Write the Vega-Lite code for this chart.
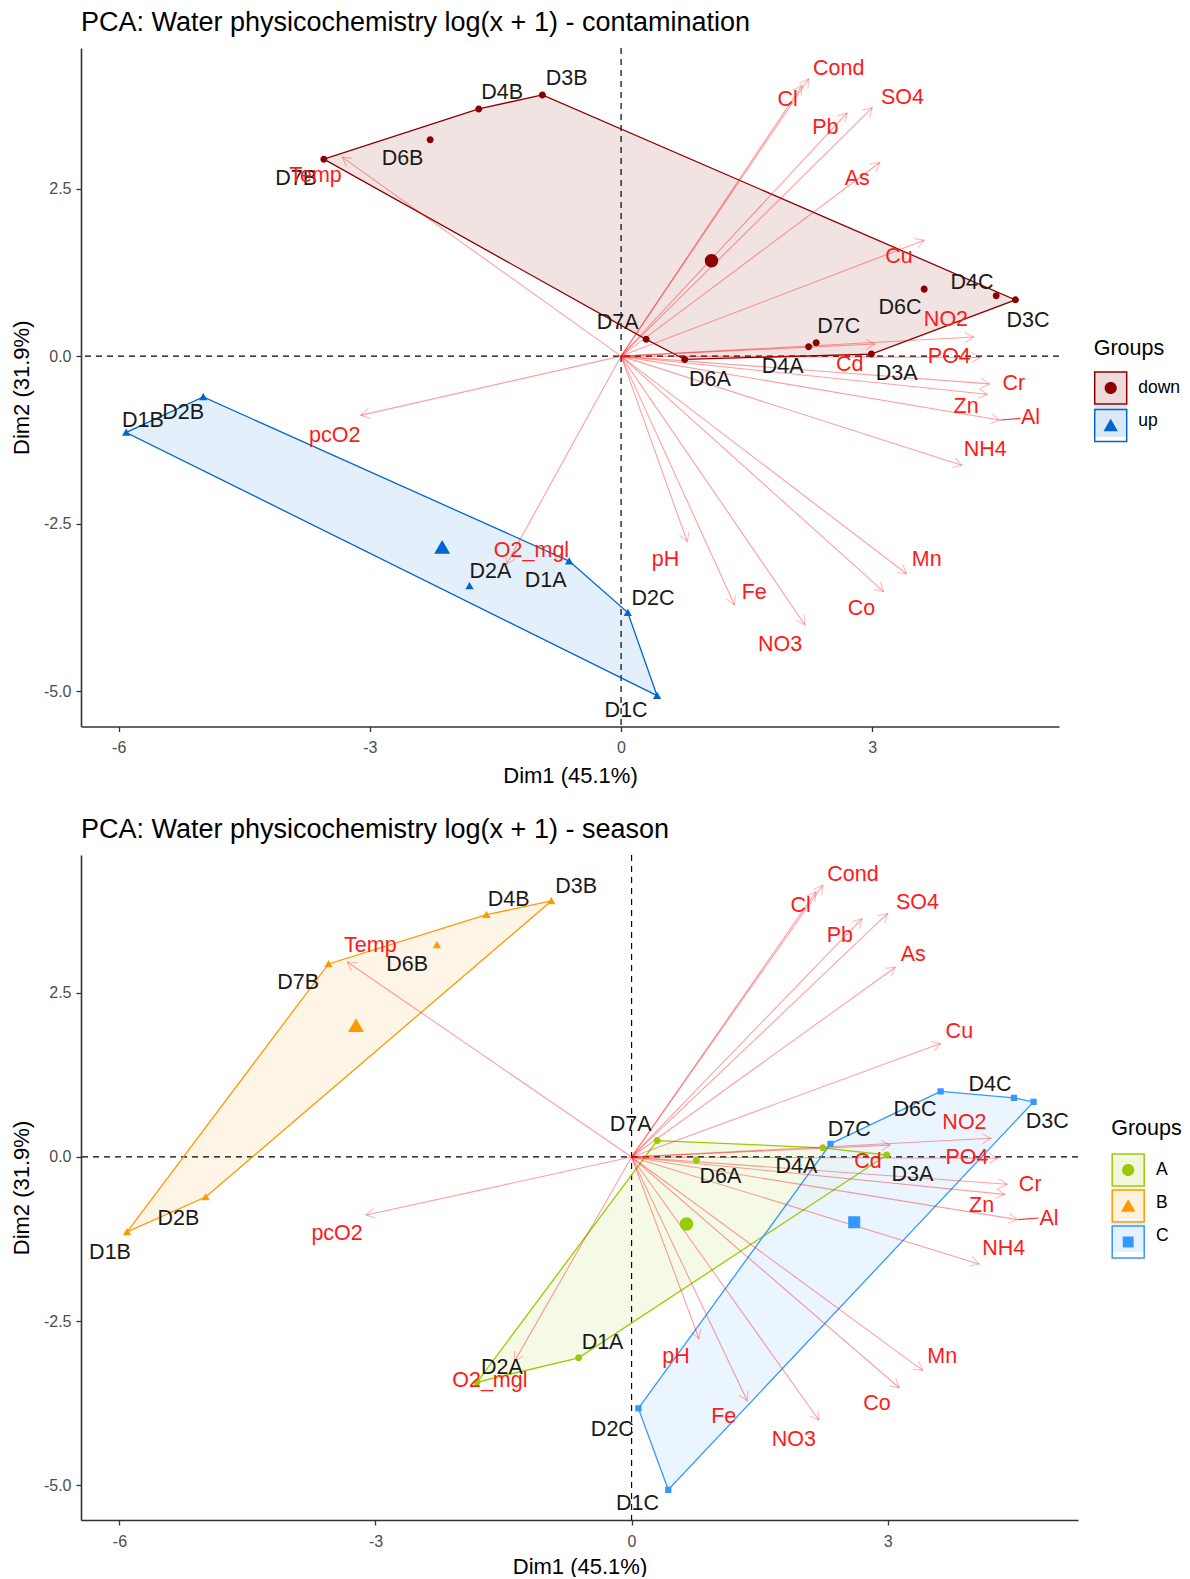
{
  "$schema": "https://vega.github.io/schema/vega-lite/v6.json",
  "background": "white",
  "padding": {"left": 10, "top": 9, "right": 2, "bottom": 0},
  "spacing": 29,
  "config": {
    "font": "Liberation Sans",
    "view": {"stroke": null},
    "axis": {"grid": false, "domainColor": "#333333", "domainWidth": 1.6, "tickColor": "#333333", "tickWidth": 1.3, "tickSize": 5, "labelColor": "#4D4D4D", "labelFontSize": 16, "labelFont": "Liberation Sans", "titleFont": "Liberation Sans", "titleFontSize": 22, "titleFontWeight": "normal", "titleColor": "black", "labelFlush": false, "labelOverlap": false},
    "axisX": {"labelPadding": 8, "titlePadding": 10},
    "axisY": {"labelPadding": 5, "titlePadding": 10},
    "legend": {"labelFont": "Liberation Sans", "titleFont": "Liberation Sans"}
  },
  "datasets": {
    "sites": [
      {"site":"D1A","contamination":"up","season":"A","dim1":-0.62,"dim2":-3.06,"lx1":-0.90,"ly1":-3.36,"lx2":-0.34,"ly2":-2.84},
      {"site":"D2A","contamination":"up","season":"A","dim1":-1.81,"dim2":-3.43,"lx1":-1.56,"ly1":-3.22,"lx2":-1.52,"ly2":-3.22},
      {"site":"D3A","contamination":"down","season":"A","dim1":2.99,"dim2":0.03,"lx1":3.29,"ly1":-0.26,"lx2":3.29,"ly2":-0.28},
      {"site":"D4A","contamination":"down","season":"A","dim1":2.24,"dim2":0.14,"lx1":1.93,"ly1":-0.16,"lx2":1.93,"ly2":-0.15},
      {"site":"D6A","contamination":"down","season":"A","dim1":0.76,"dim2":-0.05,"lx1":1.06,"ly1":-0.35,"lx2":1.04,"ly2":-0.31},
      {"site":"D7A","contamination":"down","season":"A","dim1":0.30,"dim2":0.25,"lx1":-0.04,"ly1":0.50,"lx2":-0.01,"ly2":0.49},
      {"site":"D1B","contamination":"up","season":"B","dim1":-5.91,"dim2":-1.14,"lx1":-5.71,"ly1":-0.97,"lx2":-6.11,"ly2":-1.46},
      {"site":"D2B","contamination":"up","season":"B","dim1":-4.99,"dim2":-0.61,"lx1":-5.23,"ly1":-0.85,"lx2":-5.31,"ly2":-0.94},
      {"site":"D3B","contamination":"down","season":"B","dim1":-0.94,"dim2":3.90,"lx1":-0.65,"ly1":4.14,"lx2":-0.65,"ly2":4.11},
      {"site":"D4B","contamination":"down","season":"B","dim1":-1.70,"dim2":3.69,"lx1":-1.42,"ly1":3.93,"lx2":-1.44,"ly2":3.91},
      {"site":"D6B","contamination":"down","season":"B","dim1":-2.28,"dim2":3.23,"lx1":-2.61,"ly1":2.94,"lx2":-2.63,"ly2":2.93},
      {"site":"D7B","contamination":"down","season":"B","dim1":-3.55,"dim2":2.94,"lx1":-3.88,"ly1":2.64,"lx2":-3.905,"ly2":2.65},
      {"site":"D1C","contamination":"up","season":"C","dim1":0.43,"dim2":-5.07,"lx1":0.06,"ly1":-5.30,"lx2":0.07,"ly2":-5.29},
      {"site":"D2C","contamination":"up","season":"C","dim1":0.08,"dim2":-3.83,"lx1":0.38,"ly1":-3.63,"lx2":-0.225,"ly2":-4.16},
      {"site":"D3C","contamination":"down","season":"C","dim1":4.71,"dim2":0.84,"lx1":4.86,"ly1":0.53,"lx2":4.87,"ly2":0.54},
      {"site":"D4C","contamination":"down","season":"C","dim1":4.48,"dim2":0.90,"lx1":4.19,"ly1":1.09,"lx2":4.20,"ly2":1.10},
      {"site":"D6C","contamination":"down","season":"C","dim1":3.62,"dim2":1.00,"lx1":3.33,"ly1":0.715,"lx2":3.32,"ly2":0.71},
      {"site":"D7C","contamination":"down","season":"C","dim1":2.33,"dim2":0.20,"lx1":2.60,"ly1":0.43,"lx2":2.55,"ly2":0.41}
    ],
    "hulls1": [
      {"group":"down","site":"D7B","order":1},{"group":"down","site":"D4B","order":2},{"group":"down","site":"D3B","order":3},
      {"group":"down","site":"D3C","order":4},{"group":"down","site":"D3A","order":5},{"group":"down","site":"D6A","order":6},{"group":"down","site":"D7A","order":7},
      {"group":"up","site":"D1B","order":1},{"group":"up","site":"D2B","order":2},{"group":"up","site":"D1A","order":3},{"group":"up","site":"D2C","order":4},{"group":"up","site":"D1C","order":5}
    ],
    "hulls2": [
      {"group":"A","site":"D2A","order":1},{"group":"A","site":"D7A","order":2},{"group":"A","site":"D4A","order":3},{"group":"A","site":"D3A","order":4},{"group":"A","site":"D1A","order":5},
      {"group":"B","site":"D1B","order":1},{"group":"B","site":"D7B","order":2},{"group":"B","site":"D4B","order":3},{"group":"B","site":"D3B","order":4},{"group":"B","site":"D2B","order":5},
      {"group":"C","site":"D1C","order":1},{"group":"C","site":"D2C","order":2},{"group":"C","site":"D7C","order":3},{"group":"C","site":"D6C","order":4},{"group":"C","site":"D4C","order":5},{"group":"C","site":"D3C","order":6}
    ],
    "vars": [
      {"variable":"Cond","dim1":2.24,"dim2":4.14,"lx1":2.60,"ly1":4.29,"lx2":2.594,"ly2":4.29},
      {"variable":"Cl","dim1":2.16,"dim2":4.04,"lx1":1.99,"ly1":3.82,"lx2":1.98,"ly2":3.82},
      {"variable":"Pb","dim1":2.70,"dim2":3.63,"lx1":2.44,"ly1":3.40,"lx2":2.44,"ly2":3.36},
      {"variable":"SO4","dim1":3.00,"dim2":3.71,"lx1":3.36,"ly1":3.86,"lx2":3.35,"ly2":3.865},
      {"variable":"As","dim1":3.09,"dim2":2.89,"lx1":2.82,"ly1":2.64,"lx2":3.30,"ly2":3.07},
      {"variable":"Cu","dim1":3.62,"dim2":1.73,"lx1":3.32,"ly1":1.48,"lx2":3.84,"ly2":1.90},
      {"variable":"NO2","dim1":4.21,"dim2":0.285,"lx1":3.88,"ly1":0.54,"lx2":3.90,"ly2":0.52},
      {"variable":"Cd","dim1":3.03,"dim2":0.18,"lx1":2.73,"ly1":-0.13,"lx2":2.77,"ly2":-0.08},
      {"variable":"PO4","dim1":4.29,"dim2":-0.02,"lx1":3.92,"ly1":-0.01,"lx2":3.93,"ly2":-0.015},
      {"variable":"Cr","dim1":4.40,"dim2":-0.415,"lx1":4.69,"ly1":-0.41,"lx2":4.67,"ly2":-0.43},
      {"variable":"Zn","dim1":4.37,"dim2":-0.57,"lx1":4.12,"ly1":-0.76,"lx2":4.10,"ly2":-0.75},
      {"variable":"Al","dim1":4.52,"dim2":-0.955,"lx1":4.89,"ly1":-0.93,"lx2":4.89,"ly2":-0.94},
      {"variable":"NH4","dim1":4.07,"dim2":-1.63,"lx1":4.35,"ly1":-1.40,"lx2":4.36,"ly2":-1.40},
      {"variable":"Mn","dim1":3.41,"dim2":-3.25,"lx1":3.65,"ly1":-3.04,"lx2":3.64,"ly2":-3.05},
      {"variable":"Co","dim1":3.135,"dim2":-3.515,"lx1":2.87,"ly1":-3.77,"lx2":2.875,"ly2":-3.76},
      {"variable":"NO3","dim1":2.195,"dim2":-4.01,"lx1":1.90,"ly1":-4.31,"lx2":1.90,"ly2":-4.31},
      {"variable":"Fe","dim1":1.355,"dim2":-3.715,"lx1":1.59,"ly1":-3.54,"lx2":1.08,"ly2":-3.96},
      {"variable":"pH","dim1":0.79,"dim2":-2.77,"lx1":0.53,"ly1":-3.04,"lx2":0.52,"ly2":-3.04},
      {"variable":"pcO2","dim1":-3.11,"dim2":-0.885,"lx1":-3.42,"ly1":-1.19,"lx2":-3.45,"ly2":-1.18},
      {"variable":"O2_mgl","dim1":-1.37,"dim2":-3.11,"lx1":-1.07,"ly1":-2.91,"lx2":-1.66,"ly2":-3.42},
      {"variable":"Temp","dim1":-3.33,"dim2":2.97,"lx1":-3.65,"ly1":2.69,"lx2":-3.06,"ly2":3.22}
    ],
    "repel": [{"variable":"Al","x":4.53,"y":-0.955,"x2":4.77,"y2":-0.93}]
  },
  "vconcat": [
    {
      "width": 978,
      "height": 678.5,
      "title": {"text": "PCA: Water physicochemistry log(x + 1) - contamination", "anchor": "start", "frame": "group", "fontSize": 27, "fontWeight": "normal", "font": "Liberation Sans", "color": "black", "baseline": "alphabetic", "offset": -11},
      "layer": [
        {
          "data": {"name": "hulls1"},
          "transform": [{"lookup": "site", "from": {"data": {"name": "sites"}, "key": "site", "fields": ["dim1", "dim2"]}}],
          "mark": {"type": "line", "interpolate": "linear-closed", "filled": true, "fillOpacity": 0.75},
          "encoding": {
            "x": {"field": "dim1", "type": "quantitative", "title": "Dim1 (45.1%)", "scale": {"domain": [-6.45, 5.23], "nice": false, "zero": false}, "axis": {"values": [-6, -3, 0, 3], "format": "d", "labelExpr": "replace(datum.label, '\u2212', '-')"}},
            "y": {"field": "dim2", "type": "quantitative", "title": "Dim2 (31.9%)", "scale": {"domain": [-5.53, 4.60], "nice": false, "zero": false}, "axis": {"values": [-5, -2.5, 0, 2.5], "format": ".1f", "labelExpr": "replace(datum.label, '\u2212', '-')"}},
            "order": {"field": "order", "type": "quantitative"},
            "fill": {"field": "group", "type": "nominal", "scale": {"range": ["#EEDADA", "#DAE9F8"]}, "legend": {"title": "Groups", "orient": "none", "legendX": 1012.7, "legendY": 289.5, "padding": 0, "symbolType": "square", "symbolSize": 1024, "symbolStrokeWidth": 1.5, "labelFontSize": 17.5, "labelColor": "black", "titleFontSize": 21.5, "titleFontWeight": "normal", "titleColor": "black", "titlePadding": 12, "rowPadding": -0.5, "labelOffset": 10.5}}
          }
        },
        {
          "data": {"values": [{}]},
          "mark": {"type": "rule", "stroke": "black", "strokeWidth": 1.2, "strokeDash": [6, 5]},
          "encoding": {"y": {"datum": 0, "type": "quantitative"}}
        },
        {
          "data": {"values": [{}]},
          "mark": {"type": "rule", "stroke": "black", "strokeWidth": 1.2, "strokeDash": [6, 5]},
          "encoding": {"x": {"datum": 0, "type": "quantitative"}}
        },
        {
          "data": {"name": "hulls1"},
          "transform": [{"lookup": "site", "from": {"data": {"name": "sites"}, "key": "site", "fields": ["dim1", "dim2"]}}],
          "mark": {"type": "line", "interpolate": "linear-closed", "strokeWidth": 1.3},
          "encoding": {
            "x": {"field": "dim1", "type": "quantitative", "title": "Dim1 (45.1%)"},
            "y": {"field": "dim2", "type": "quantitative", "title": "Dim2 (31.9%)"},
            "order": {"field": "order", "type": "quantitative"},
            "stroke": {"field": "group", "type": "nominal", "scale": {"range": ["#8B0000", "#0066CC"]}, "legend": {"title": "Groups", "orient": "none", "legendX": 1012.7, "legendY": 289.5, "padding": 0, "symbolType": "square", "symbolSize": 1024, "symbolStrokeWidth": 1.5, "symbolFillColor": "transparent", "labelFontSize": 17.5, "labelColor": "black", "titleFontSize": 21.5, "titleFontWeight": "normal", "titleColor": "black", "titlePadding": 12, "rowPadding": -0.5, "labelOffset": 10.5, "titleOpacity": 0, "labelOpacity": 0, "labelExpr": "''"}}
          }
        },
        {
          "data": {"name": "vars"},
          "mark": {"type": "rule", "stroke": "red", "strokeOpacity": 0.38, "strokeWidth": 1.1},
          "encoding": {
            "x": {"field": "dim1", "type": "quantitative", "title": "Dim1 (45.1%)"},
            "y": {"field": "dim2", "type": "quantitative", "title": "Dim2 (31.9%)"},
            "x2": {"datum": 0},
            "y2": {"datum": 0}
          }
        },
        {
          "data": {"name": "vars"},
          "transform": [{"calculate": "atan2(-datum.dim2 * 67.0, datum.dim1 * 83.7) * 180 / PI", "as": "ang"}],
          "mark": {"type": "point", "shape": "M-1,-0.58L0,0L-1,0.58", "filled": false, "stroke": "red", "strokeOpacity": 0.38, "strokeWidth": 1.1, "size": 300},
          "encoding": {
            "x": {"field": "dim1", "type": "quantitative", "title": "Dim1 (45.1%)"},
            "y": {"field": "dim2", "type": "quantitative", "title": "Dim2 (31.9%)"},
            "angle": {"field": "ang", "type": "quantitative", "scale": null}
          }
        },
        {
          "data": {"name": "repel"},
          "mark": {"type": "rule", "stroke": "red", "strokeOpacity": 0.8, "strokeWidth": 1.1},
          "encoding": {
            "x": {"field": "x", "type": "quantitative", "title": "Dim1 (45.1%)"},
            "y": {"field": "y", "type": "quantitative", "title": "Dim2 (31.9%)"},
            "x2": {"field": "x2"},
            "y2": {"field": "y2"}
          }
        },
        {
          "data": {"name": "sites"},
          "mark": {"type": "point", "filled": true, "size": 340, "opacity": 1},
          "encoding": {
            "x": {"field": "dim1", "type": "quantitative", "title": "Dim1 (45.1%)"},
            "y": {"field": "dim2", "type": "quantitative", "title": "Dim2 (31.9%)"},
            "color": {"field": "contamination", "type": "nominal", "scale": {"range": ["#8B0000", "#0066CC"]}, "legend": {"title": "Groups", "orient": "none", "legendX": 1012.7, "legendY": 289.5, "padding": 0, "symbolSize": 1024, "symbolStrokeWidth": 1.5, "symbolStrokeColor": "transparent", "labelFontSize": 17.5, "titleFontSize": 21.5, "titleFontWeight": "normal", "titlePadding": 12, "rowPadding": -0.5, "labelOffset": 10.5, "titleOpacity": 0, "labelOpacity": 0, "labelExpr": "''"}},
            "shape": {"field": "contamination", "type": "nominal", "scale": {"range": ["M-1,-1L-0.99,-1M1,1L0.99,1M0.38,0A0.38,0.38,0,1,1,-0.38,0A0.38,0.38,0,1,1,0.38,0Z", "M-1,-1L-0.99,-1M1,1L0.99,1M0,-0.42L0.45,0.36L-0.45,0.36Z"]}, "legend": {"title": "Groups", "orient": "none", "legendX": 1012.7, "legendY": 289.5, "padding": 0, "symbolSize": 1024, "symbolStrokeWidth": 1.5, "symbolStrokeColor": "transparent", "labelFontSize": 17.5, "titleFontSize": 21.5, "titleFontWeight": "normal", "titlePadding": 12, "rowPadding": -0.5, "labelOffset": 10.5, "titleOpacity": 0, "labelOpacity": 0, "labelExpr": "''"}}
          }
        },
        {
          "data": {"name": "sites"},
          "mark": {"type": "point", "filled": true, "size": 1250, "opacity": 1},
          "encoding": {
            "x": {"aggregate": "mean", "field": "dim1", "type": "quantitative", "title": "Dim1 (45.1%)"},
            "y": {"aggregate": "mean", "field": "dim2", "type": "quantitative", "title": "Dim2 (31.9%)"},
            "color": {"field": "contamination", "type": "nominal"},
            "shape": {"field": "contamination", "type": "nominal"}
          }
        },
        {
          "data": {"name": "sites"},
          "mark": {"type": "text", "fontSize": 21.5, "font": "Liberation Sans", "color": "#1a1a1a", "baseline": "middle", "align": "center"},
          "encoding": {
            "x": {"field": "lx1", "type": "quantitative", "title": "Dim1 (45.1%)"},
            "y": {"field": "ly1", "type": "quantitative", "title": "Dim2 (31.9%)"},
            "text": {"field": "site", "type": "nominal"}
          }
        },
        {
          "data": {"name": "vars"},
          "mark": {"type": "text", "fontSize": 21.5, "font": "Liberation Sans", "color": "#FF1A1A", "baseline": "middle", "align": "center"},
          "encoding": {
            "x": {"field": "lx1", "type": "quantitative", "title": "Dim1 (45.1%)"},
            "y": {"field": "ly1", "type": "quantitative", "title": "Dim2 (31.9%)"},
            "text": {"field": "variable", "type": "nominal"}
          }
        }
      ]
    },
    {
      "width": 997,
      "height": 665,
      "title": {"text": "PCA: Water physicochemistry log(x + 1) - season", "anchor": "start", "frame": "group", "fontSize": 27, "fontWeight": "normal", "font": "Liberation Sans", "color": "black", "baseline": "alphabetic", "offset": -11},
      "layer": [
        {
          "data": {"name": "hulls2"},
          "transform": [{"lookup": "site", "from": {"data": {"name": "sites"}, "key": "site", "fields": ["dim1", "dim2"]}}],
          "mark": {"type": "line", "interpolate": "linear-closed", "filled": true, "fillOpacity": 0.75},
          "encoding": {
            "x": {"field": "dim1", "type": "quantitative", "title": "Dim1 (45.1%)", "scale": {"domain": [-6.45, 5.23], "nice": false, "zero": false}, "axis": {"values": [-6, -3, 0, 3], "format": "d", "titlePadding": 7, "labelExpr": "replace(datum.label, '\u2212', '-')"}},
            "y": {"field": "dim2", "type": "quantitative", "title": "Dim2 (31.9%)", "scale": {"domain": [-5.53, 4.60], "nice": false, "zero": false}, "axis": {"values": [-5, -2.5, 0, 2.5], "format": ".1f", "labelExpr": "replace(datum.label, '\u2212', '-')"}},
            "order": {"field": "order", "type": "quantitative"},
            "fill": {"field": "group", "type": "nominal", "scale": {"range": ["#F2F8DD", "#FFF2DD", "#E4F1FF"]}, "legend": {"title": "Groups", "orient": "none", "legendX": 1030.2, "legendY": 263, "padding": 0, "symbolType": "square", "symbolSize": 1024, "symbolStrokeWidth": 1.5, "labelFontSize": 17.5, "labelColor": "black", "titleFontSize": 21.5, "titleFontWeight": "normal", "titleColor": "black", "titlePadding": 13.5, "rowPadding": -2, "labelOffset": 10.8}}
          }
        },
        {
          "data": {"values": [{}]},
          "mark": {"type": "rule", "stroke": "black", "strokeWidth": 1.2, "strokeDash": [6, 5]},
          "encoding": {"y": {"datum": 0, "type": "quantitative"}}
        },
        {
          "data": {"values": [{}]},
          "mark": {"type": "rule", "stroke": "black", "strokeWidth": 1.2, "strokeDash": [6, 5]},
          "encoding": {"x": {"datum": 0, "type": "quantitative"}}
        },
        {
          "data": {"name": "hulls2"},
          "transform": [{"lookup": "site", "from": {"data": {"name": "sites"}, "key": "site", "fields": ["dim1", "dim2"]}}],
          "mark": {"type": "line", "interpolate": "linear-closed", "strokeWidth": 1.3},
          "encoding": {
            "x": {"field": "dim1", "type": "quantitative", "title": "Dim1 (45.1%)"},
            "y": {"field": "dim2", "type": "quantitative", "title": "Dim2 (31.9%)"},
            "order": {"field": "order", "type": "quantitative"},
            "stroke": {"field": "group", "type": "nominal", "scale": {"range": ["#99CC00", "#FF9900", "#3399FF"]}, "legend": {"title": "Groups", "orient": "none", "legendX": 1030.2, "legendY": 263, "padding": 0, "symbolType": "square", "symbolSize": 1024, "symbolStrokeWidth": 1.5, "symbolFillColor": "transparent", "labelFontSize": 17.5, "labelColor": "black", "titleFontSize": 21.5, "titleFontWeight": "normal", "titleColor": "black", "titlePadding": 13.5, "rowPadding": -2, "labelOffset": 10.8, "titleOpacity": 0, "labelOpacity": 0, "labelExpr": "''"}}
          }
        },
        {
          "data": {"name": "vars"},
          "mark": {"type": "rule", "stroke": "red", "strokeOpacity": 0.38, "strokeWidth": 1.1},
          "encoding": {
            "x": {"field": "dim1", "type": "quantitative", "title": "Dim1 (45.1%)"},
            "y": {"field": "dim2", "type": "quantitative", "title": "Dim2 (31.9%)"},
            "x2": {"datum": 0},
            "y2": {"datum": 0}
          }
        },
        {
          "data": {"name": "vars"},
          "transform": [{"calculate": "atan2(-datum.dim2 * 65.6, datum.dim1 * 85.4) * 180 / PI", "as": "ang"}],
          "mark": {"type": "point", "shape": "M-1,-0.58L0,0L-1,0.58", "filled": false, "stroke": "red", "strokeOpacity": 0.38, "strokeWidth": 1.1, "size": 300},
          "encoding": {
            "x": {"field": "dim1", "type": "quantitative", "title": "Dim1 (45.1%)"},
            "y": {"field": "dim2", "type": "quantitative", "title": "Dim2 (31.9%)"},
            "angle": {"field": "ang", "type": "quantitative", "scale": null}
          }
        },
        {
          "data": {"name": "repel"},
          "mark": {"type": "rule", "stroke": "red", "strokeOpacity": 0.8, "strokeWidth": 1.1},
          "encoding": {
            "x": {"field": "x", "type": "quantitative", "title": "Dim1 (45.1%)"},
            "y": {"field": "y", "type": "quantitative", "title": "Dim2 (31.9%)"},
            "x2": {"field": "x2"},
            "y2": {"field": "y2"}
          }
        },
        {
          "data": {"name": "sites"},
          "mark": {"type": "point", "filled": true, "size": 340, "opacity": 1},
          "encoding": {
            "x": {"field": "dim1", "type": "quantitative", "title": "Dim1 (45.1%)"},
            "y": {"field": "dim2", "type": "quantitative", "title": "Dim2 (31.9%)"},
            "color": {"field": "season", "type": "nominal", "scale": {"range": ["#99CC00", "#FF9900", "#3399FF"]}, "legend": {"title": "Groups", "orient": "none", "legendX": 1030.2, "legendY": 263, "padding": 0, "symbolSize": 1024, "symbolStrokeWidth": 1.5, "symbolStrokeColor": "transparent", "labelFontSize": 17.5, "titleFontSize": 21.5, "titleFontWeight": "normal", "titlePadding": 13.5, "rowPadding": -2, "labelOffset": 10.8, "titleOpacity": 0, "labelOpacity": 0, "labelExpr": "''"}},
            "shape": {"field": "season", "type": "nominal", "scale": {"range": ["M-1,-1L-0.99,-1M1,1L0.99,1M0.38,0A0.38,0.38,0,1,1,-0.38,0A0.38,0.38,0,1,1,0.38,0Z", "M-1,-1L-0.99,-1M1,1L0.99,1M0,-0.42L0.45,0.36L-0.45,0.36Z", "M-1,-1L-0.99,-1M1,1L0.99,1M-0.34,-0.34L0.34,-0.34L0.34,0.34L-0.34,0.34Z"]}, "legend": {"title": "Groups", "orient": "none", "legendX": 1030.2, "legendY": 263, "padding": 0, "symbolSize": 1024, "symbolStrokeWidth": 1.5, "symbolStrokeColor": "transparent", "labelFontSize": 17.5, "titleFontSize": 21.5, "titleFontWeight": "normal", "titlePadding": 13.5, "rowPadding": -2, "labelOffset": 10.8, "titleOpacity": 0, "labelOpacity": 0, "labelExpr": "''"}}
          }
        },
        {
          "data": {"name": "sites"},
          "mark": {"type": "point", "filled": true, "size": 1250, "opacity": 1},
          "encoding": {
            "x": {"aggregate": "mean", "field": "dim1", "type": "quantitative", "title": "Dim1 (45.1%)"},
            "y": {"aggregate": "mean", "field": "dim2", "type": "quantitative", "title": "Dim2 (31.9%)"},
            "color": {"field": "season", "type": "nominal"},
            "shape": {"field": "season", "type": "nominal"}
          }
        },
        {
          "data": {"name": "sites"},
          "mark": {"type": "text", "fontSize": 21.5, "font": "Liberation Sans", "color": "#1a1a1a", "baseline": "middle", "align": "center"},
          "encoding": {
            "x": {"field": "lx2", "type": "quantitative", "title": "Dim1 (45.1%)"},
            "y": {"field": "ly2", "type": "quantitative", "title": "Dim2 (31.9%)"},
            "text": {"field": "site", "type": "nominal"}
          }
        },
        {
          "data": {"name": "vars"},
          "mark": {"type": "text", "fontSize": 21.5, "font": "Liberation Sans", "color": "#FF1A1A", "baseline": "middle", "align": "center"},
          "encoding": {
            "x": {"field": "lx2", "type": "quantitative", "title": "Dim1 (45.1%)"},
            "y": {"field": "ly2", "type": "quantitative", "title": "Dim2 (31.9%)"},
            "text": {"field": "variable", "type": "nominal"}
          }
        }
      ]
    }
  ],
  "resolve": {
    "scale": {"color": "independent", "shape": "independent", "fill": "independent", "stroke": "independent"},
    "legend": {"color": "independent", "shape": "independent", "fill": "independent", "stroke": "independent"}
  }
}
